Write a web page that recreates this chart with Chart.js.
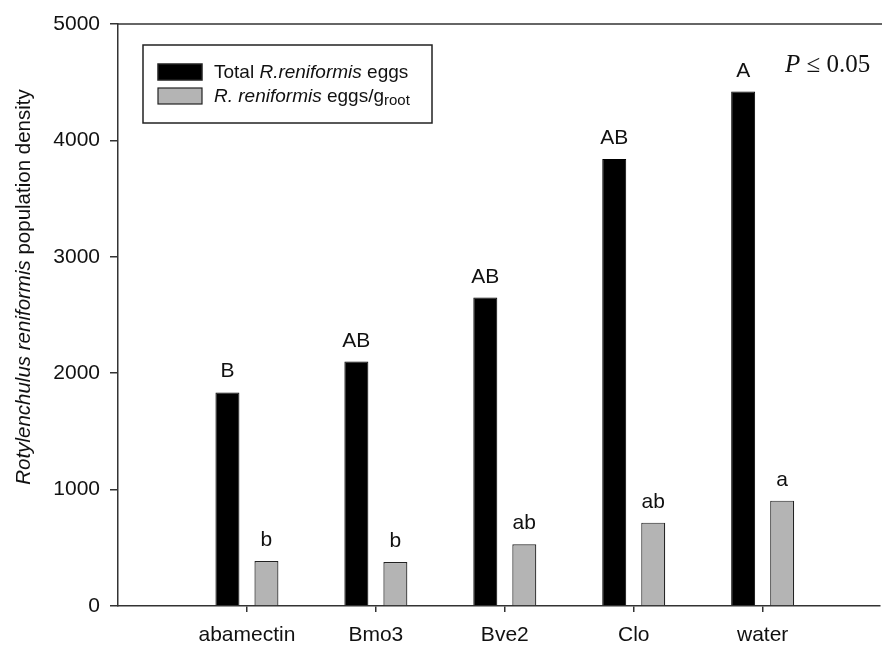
<!DOCTYPE html>
<html>
<head>
<meta charset="utf-8">
<script src="https://cdn.jsdelivr.net/npm/chart.js@4/dist/chart.umd.min.js"></script>
<style>
  html, body { margin: 0; padding: 0; background: #fff; }
  #wrap { width: 882px; height: 647px; }
</style>
</head>
<body>
<div id="wrap"><canvas id="chart" width="882" height="647"></canvas></div>
<script>
const categories = ['abamectin', 'Bmo3', 'Bve2', 'Clo', 'water'];
const totalEggs = [1835, 2100, 2650, 3840, 4420];
const eggsPerGramRoot = [387, 378, 530, 716, 905];
const totalLetters = ['B', 'AB', 'AB', 'AB', 'A'];
const perGramLetters = ['b', 'b', 'ab', 'ab', 'a'];
const yTicks = [0, 1000, 2000, 3000, 4000, 5000];

const SANS = '"Liberation Sans", Arial, sans-serif';
const SERIF = '"Liberation Serif", "Times New Roman", serif';
const AXIS = '#333';

// draws mixed-style text runs from a starting point, returns end x
function drawRuns(ctx, runs, x, y) {
    runs.forEach(r => {
        ctx.font = r.font;
        ctx.fillText(r.text, x, y + (r.dy || 0));
        x += ctx.measureText(r.text).width;
    });
    return x;
}
function runsWidth(ctx, runs) {
    let w = 0;
    runs.forEach(r => { ctx.font = r.font; w += ctx.measureText(r.text).width; });
    return w;
}

const extras = {
    id: 'extras',
    afterDraw(chart) {
        const ctx = chart.ctx;
        const area = chart.chartArea;
        ctx.save();

        // top frame line
        ctx.strokeStyle = AXIS;
        ctx.lineWidth = 1.5;
        ctx.beginPath();
        ctx.moveTo(area.left, area.top);
        ctx.lineTo(chart.width, area.top);
        ctx.stroke();

        // significance letters above bars
        ctx.fillStyle = '#111';
        ctx.font = '21px ' + SANS;
        ctx.textAlign = 'center';
        ctx.textBaseline = 'alphabetic';
        [totalLetters, perGramLetters].forEach((letters, di) => {
            chart.getDatasetMeta(di).data.forEach((bar, i) => {
                ctx.fillText(letters[i], bar.x, bar.y - 15);
            });
        });

        // legend
        ctx.lineWidth = 1.5;
        ctx.strokeStyle = '#222';
        ctx.strokeRect(143, 45, 289, 78);
        ctx.fillStyle = '#000';
        ctx.fillRect(158, 64, 44, 16);
        ctx.strokeRect(158, 64, 44, 16);
        ctx.fillStyle = '#b4b4b4';
        ctx.fillRect(158, 88, 44, 16);
        ctx.lineWidth = 1.2;
        ctx.strokeRect(158, 88, 44, 16);
        ctx.fillStyle = '#111';
        ctx.textAlign = 'left';
        drawRuns(ctx, [
            { text: 'Total ', font: '19px ' + SANS },
            { text: 'R.reniformis', font: 'italic 19px ' + SANS },
            { text: ' eggs', font: '19px ' + SANS }
        ], 214, 78);
        drawRuns(ctx, [
            { text: 'R. reniformis', font: 'italic 19px ' + SANS },
            { text: ' eggs/g', font: '19px ' + SANS },
            { text: 'root', font: '15px ' + SANS, dy: 3 }
        ], 214, 102);

        // P value note
        drawRuns(ctx, [
            { text: 'P', font: 'italic 25px ' + SERIF },
            { text: ' \u2264 0.05', font: '25px ' + SERIF }
        ], 785, 72);

        // y axis title
        const title = [
            { text: 'Rotylenchulus reniformis', font: 'italic 20.5px ' + SANS },
            { text: ' population density', font: '20.5px ' + SANS }
        ];
        ctx.translate(30, 287);
        ctx.rotate(-Math.PI / 2);
        drawRuns(ctx, title, -runsWidth(ctx, title) / 2, 0);

        ctx.restore();
    }
};

new Chart(document.getElementById('chart'), {
    type: 'bar',
    data: {
        datasets: [
            {
                label: 'Total R.reniformis eggs',
                data: totalEggs.map((v, i) => ({ x: i + 1, y: v })),
                backgroundColor: '#000',
                borderColor: '#000',
                borderWidth: 1
            },
            {
                label: 'R. reniformis eggs/g root',
                data: eggsPerGramRoot.map((v, i) => ({ x: i + 1, y: v })),
                backgroundColor: '#b4b4b4',
                borderColor: '#222',
                borderWidth: 1.2
            }
        ]
    },
    options: {
        responsive: false,
        animation: false,
        categoryPercentage: 0.605,
        barPercentage: 0.615,
        layout: { padding: { top: 24, right: 2, left: 0, bottom: 0 } },
        plugins: {
            legend: { display: false },
            tooltip: { enabled: false }
        },
        scales: {
            x: {
                type: 'linear',
                min: 0,
                max: 5.91,
                offset: false,
                afterBuildTicks: s => { s.ticks = categories.map((c, i) => ({ value: i + 1 })); },
                afterFit: s => { s.height = 41; },
                border: { display: true, color: AXIS, width: 1.5 },
                grid: { display: true, offset: false, drawOnChartArea: false, drawTicks: true, tickLength: 6, color: AXIS, lineWidth: 1.5 },
                ticks: {
                    autoSkip: false,
                    maxRotation: 0,
                    padding: 11,
                    color: '#111',
                    font: { family: SANS, size: 21 },
                    callback: v => categories[v - 1] || ''
                }
            },
            y: {
                min: 0,
                max: 5000,
                afterBuildTicks: s => { s.ticks = yTicks.map(v => ({ value: v })); },
                afterFit: s => { s.width = 118; },
                border: { display: true, color: AXIS, width: 1.5 },
                grid: { display: true, drawOnChartArea: false, drawTicks: true, tickLength: 8, color: AXIS, lineWidth: 1.5 },
                ticks: {
                    padding: 10,
                    color: '#111',
                    font: { family: SANS, size: 21 },
                    callback: v => String(v)
                }
            }
        }
    },
    plugins: [extras]
});
</script>
</body>
</html>
